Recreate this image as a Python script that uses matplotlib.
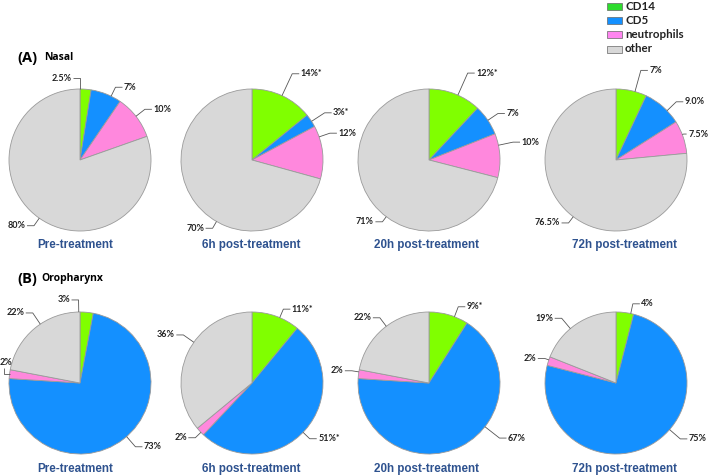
import numpy as np
import matplotlib
matplotlib.use("Agg")
import matplotlib.pyplot as plt
from matplotlib.patches import Rectangle

# ---------------- data ----------------
categories = ["CD14", "CD5", "neutrophils", "other"]
timepoints = ["Pre-treatment", "6h post-treatment", "20h post-treatment", "72h post-treatment"]

nasal_pre = [2.5, 7, 10, 80]
nasal_6h = [14, 3, 12, 70]
nasal_20h = [12, 7, 10, 71]
nasal_72h = [7, 9.0, 7.5, 76.5]

oro_pre = [3, 73, 2, 22]
oro_6h = [11, 51, 2, 36]
oro_20h = [9, 67, 2, 22]
oro_72h = [4, 75, 2, 19]

nasal_labels = [["2.5%", "7%", "10%", "80%"],
                ["14%*", "3%*", "12%", "70%"],
                ["12%*", "7%", "10%", "71%"],
                ["7%", "9.0%", "7.5%", "76.5%"]]
oro_labels = [["3%", "73%", "2%", "22%"],
              ["11%*", "51%*", "2%", "36%"],
              ["9%*", "67%", "2%", "22%"],
              ["4%", "75%", "2%", "19%"]]

# ---------------- style / layout ----------------
W, H = 709, 476
pie_colors = ["#80FF00", "#1490FF", "#FF88DD", "#D8D8D8"]
legend_colors = ["#2EDC2E", "#1490FF", "#FF85F0", "#D8D8D8"]
title_color = "#2E528F"
R = 71
centers_x = [80, 252, 429, 616]
row_y = [160, 383]               # pixel rows (from top)
title_x = [75, 251, 427, 624]
title_y = [245, 469]

# label layout: (elbow angle deg, radius factor, side, stub length)
nasal_layout = [
    [(90, 1.15, "L", 7), (64, 1.14, "R", 7), (38, 1.16, "R", 7), (-125, 1.13, "L", 7)],
    [(65, 1.34, "R", 7), (33, 1.22, "R", 7), (19, 1.16, "R", 7), (-120, 1.11, "L", 7)],
    [(66, 1.34, "R", 7), (34, 1.17, "R", 7), (12, 1.21, "R", 7), (-127, 1.09, "L", 7)],
    [(74.5, 1.31, "R", 7), (44, 1.18, "R", 7), (21, 1.02, "R", 3), (-127, 1.11, "L", 7)],
]
oro_layout = [
    [(91, 1.17, "L", 7), (-49, 1.19, "R", 7), (172.8, 1.0, "U", 6), (124, 1.19, "L", 7)],
    [(67, 1.13, "R", 7), (-44, 1.13, "R", 7), (-136, 1.11, "L", 7), (145, 1.18, "L", 7)],
    [(69, 1.15, "R", 7), (-38, 1.26, "R", 7), (171, 1.10, "L", 7), (127, 1.15, "L", 7)],
    [(78, 1.14, "R", 7), (-41, 1.20, "R", 7), (161, 1.06, "L", 7), (130, 1.19, "L", 7)],
]

lab_font = dict(family=["Lato", "DejaVu Sans"], fontsize=6.5, fontweight="bold", color="#222222")
line_kw = dict(color="#555555", lw=0.6, solid_capstyle="butt")

fig = plt.figure(figsize=(W / 100, H / 100), dpi=100)
ax = fig.add_axes([0, 0, 1, 1])


def Y(p):
    return H - p


def draw_label(cx, cy, text, ang, rf, side, stub):
    a = np.deg2rad(ang)
    ex, ey = cx + R * np.cos(a), cy + R * np.sin(a)
    if side == "U":
        hx = ex - stub
        ax.plot([ex, hx, hx], [ey, ey, ey + 6], **line_kw)
        ax.text(hx + 2, ey + 7, text, ha="center", va="bottom", **lab_font)
        return
    kx, ky = cx + R * rf * np.cos(a), cy + R * rf * np.sin(a)
    s = 1 if side == "R" else -1
    hx = kx + s * stub
    ax.plot([ex, kx, hx], [ey, ky, ky], **line_kw)
    ax.text(hx + s * 1.5, ky, text, ha="left" if s > 0 else "right",
            va="center", **lab_font)


rows = [([nasal_pre, nasal_6h, nasal_20h, nasal_72h], nasal_labels, nasal_layout),
        ([oro_pre, oro_6h, oro_20h, oro_72h], oro_labels, oro_layout)]

for ri, (vals_list, labs, lays) in enumerate(rows):
    cy = Y(row_y[ri])
    for ci, vals in enumerate(vals_list):
        cx = centers_x[ci]
        ax.pie(vals, colors=pie_colors, startangle=90, counterclock=False,
               center=(cx, cy), radius=R, normalize=True,
               wedgeprops=dict(edgecolor="#9A9A9A", linewidth=0.6))
        for (ang, rf, side, stub), t in zip(lays[ci], labs[ci]):
            draw_label(cx, cy, t, ang, rf, side, stub)
        ax.text(title_x[ci], Y(title_y[ri]), timepoints[ci], ha="center", va="center",
                family=["Liberation Sans", "DejaVu Sans"], fontsize=8.4,
                fontweight="bold", color=title_color)

# panel headings
ax.text(17, Y(58), "(A)", ha="left", va="center", family=["Open Sans", "DejaVu Sans"],
        fontsize=10.5, fontweight="bold", color="black")
ax.text(44, Y(58), "Nasal", ha="left", va="center", family=["Open Sans", "DejaVu Sans"],
        fontsize=7.5, fontweight="bold", color="black")
ax.text(17, Y(279), "(B)", ha="left", va="center", family=["Open Sans", "DejaVu Sans"],
        fontsize=10.5, fontweight="bold", color="black")
ax.text(41, Y(279), "Oropharynx", ha="left", va="center", family=["Open Sans", "DejaVu Sans"],
        fontsize=7.5, fontweight="bold", color="black")

# legend
leg_y = [6, 20, 34, 49]
for c, lab, yy in zip(legend_colors, categories, leg_y):
    ax.add_patch(Rectangle((607, Y(yy) - 3.5), 15, 7, facecolor=c,
                           edgecolor="#666666", linewidth=0.5))
    ax.text(625, Y(yy), lab, ha="left", va="center", family=["Lato", "DejaVu Sans"],
            fontsize=8.3, fontweight="bold", color="#222222")

ax.set_xlim(0, W)
ax.set_ylim(0, H)
ax.set_aspect("equal")
ax.axis("off")
fig.savefig("out.png", dpi=100)
